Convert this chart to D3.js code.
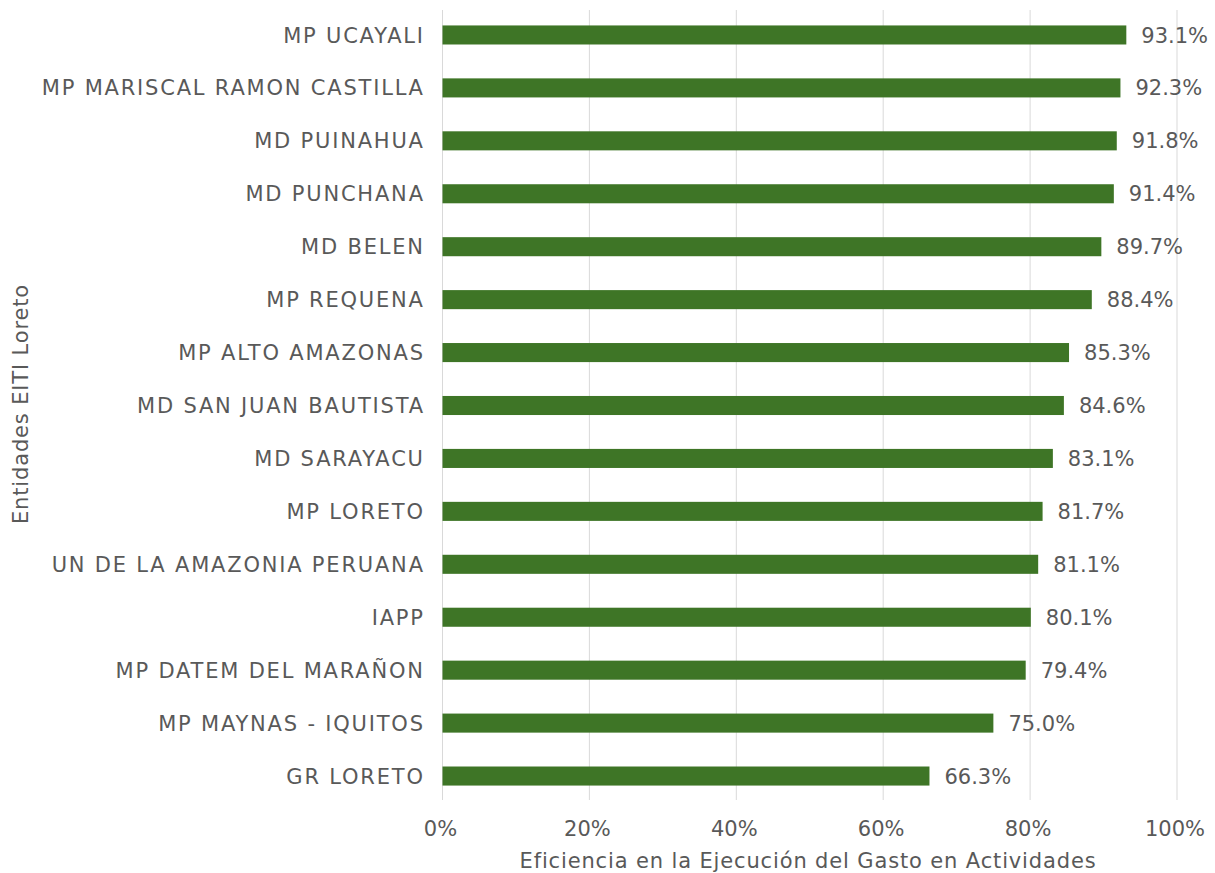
<!DOCTYPE html>
<html><head><meta charset="utf-8">
<script src="https://cdn.jsdelivr.net/npm/d3@7"></script>
<style>body{margin:0;background:#fff}svg{display:block}text{font-family:"DejaVu Sans",sans-serif;fill:#595959}</style>
</head><body><svg id="c" width="1215" height="873"></svg>
<script>
const categories = ["MP UCAYALI","MP MARISCAL RAMON CASTILLA","MD PUINAHUA","MD PUNCHANA","MD BELEN","MP REQUENA","MP ALTO AMAZONAS","MD SAN JUAN BAUTISTA","MD SARAYACU","MP LORETO","UN DE LA AMAZONIA PERUANA","IAPP","MP DATEM DEL MARAÑON","MP MAYNAS - IQUITOS","GR LORETO"];
const values = [93.1,92.3,91.8,91.4,89.7,88.4,85.3,84.6,83.1,81.7,81.1,80.1,79.4,75.0,66.3];
const ticks = [0,20,40,60,80,100];
const xTitle = "Eficiencia en la Ejecución del Gasto en Actividades";
const yTitle = "Entidades EITI Loreto";

const svg = d3.select("#c");
const x = d3.scaleLinear().domain([0,100]).range([442.5,1177]);
const y = d3.scaleBand().domain(categories).range([8.5,802.5]).paddingInner(0.64).paddingOuter(0.32);

// letter-spacing calibration so the text widths follow the reference
function spacingFor(str, size, target){
  const t = svg.append("text").attr("font-size",size).text(str);
  const w = t.node().getComputedTextLength();
  t.remove();
  return (target - w) / str.length;
}
const FS = 21;
const lsCat = spacingFor("MP MARISCAL RAMON CASTILLA", FS, 383);
const lsTitle = spacingFor(xTitle, FS, 577);
const lsY = spacingFor(yTitle, FS, 240);

svg.append("g").selectAll("line").data(ticks).join("line")
  .attr("x1",d=>x(d)).attr("x2",d=>x(d)).attr("y1",10).attr("y2",800)
  .attr("stroke","#d9d9d9").attr("stroke-width",1);

svg.append("g").selectAll("rect").data(values).join("rect")
  .attr("x",x(0)).attr("y",(d,i)=>y(categories[i]))
  .attr("width",d=>x(d)-x(0)).attr("height",y.bandwidth())
  .attr("fill","#3e7526");

svg.append("g").selectAll("text").data(values).join("text")
  .attr("x",d=>x(d)+15).attr("y",(d,i)=>y(categories[i])+y.bandwidth()/2)
  .attr("dy","0.36em").attr("font-size",FS).text(d=>d.toFixed(1)+"%");

svg.append("g").selectAll("text").data(categories).join("text")
  .attr("x",423+lsCat).attr("y",d=>y(d)+y.bandwidth()/2).attr("dy","0.36em")
  .attr("text-anchor","end").attr("font-size",FS).attr("letter-spacing",lsCat).text(d=>d);

svg.append("g").selectAll("text").data(ticks).join("text")
  .attr("x",d=>x(d)-2).attr("y",828).attr("dy","0.36em")
  .attr("text-anchor","middle").attr("font-size",FS).text(d=>d+"%");

svg.append("text").attr("x",808).attr("y",860).attr("dy","0.36em")
  .attr("text-anchor","middle").attr("font-size",FS).attr("letter-spacing",lsTitle).text(xTitle);

svg.append("text").attr("transform","translate(20,404) rotate(-90)").attr("dy","0.36em")
  .attr("text-anchor","middle").attr("font-size",FS).attr("letter-spacing",lsY).text(yTitle);
</script></body></html>
